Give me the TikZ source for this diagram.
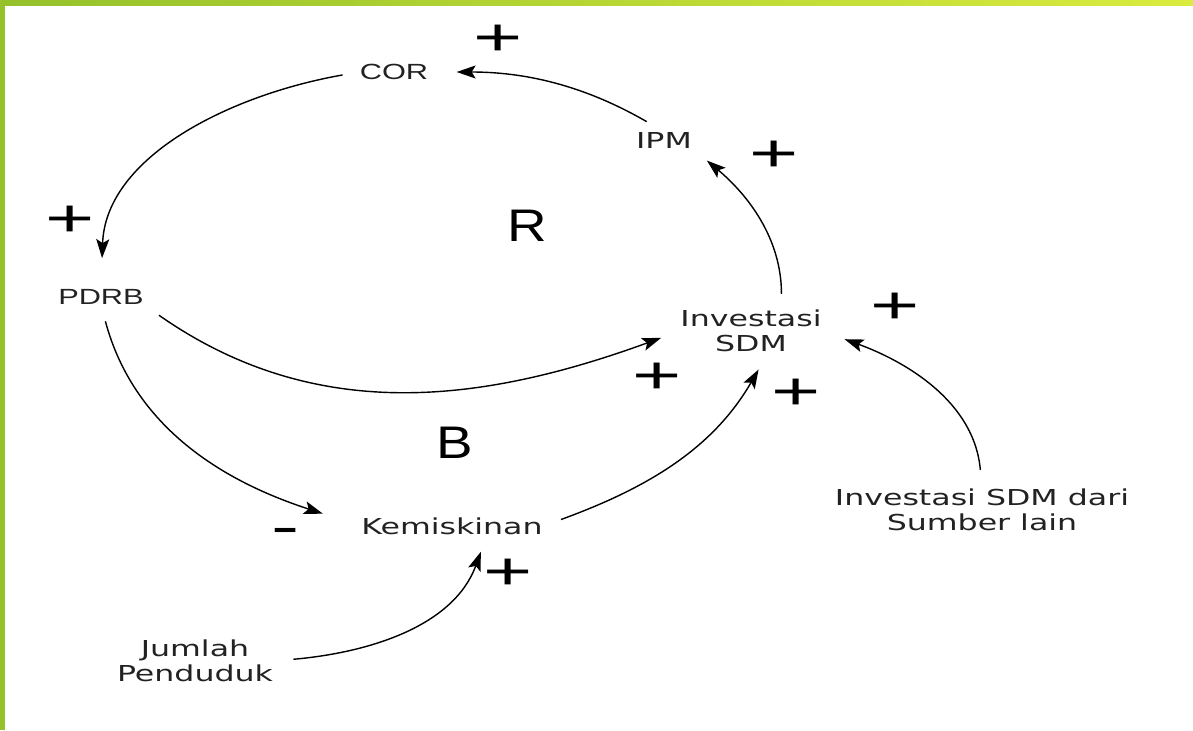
\documentclass[tikz,border=0pt]{standalone}
\usepackage{fontspec}
\usepackage{tikz}
\usetikzlibrary{arrows.meta}
\newfontfamily\dejavu{DejaVu Sans}
\newfontfamily\libsans{Liberation Sans}
\definecolor{barleft}{HTML}{95C12B}
\definecolor{barright}{HTML}{D9EB3E}
\definecolor{inkgray}{HTML}{222222}

\begin{document}
\begin{tikzpicture}[
  x=0.02cm, y=-0.02cm,
  var/.style={
    inner sep=0pt,
    align=center,
    xscale=1.44,
    transform shape,
    text=inkgray,
    font=\dejavu\fontsize{12.5}{14}\selectfont
  },
  varsans/.style={
    inner sep=0pt,
    xscale=1.4,
    transform shape,
    text=inkgray,
    font=\libsans\fontsize{12.5}{14}\selectfont
  },
  loopmark/.style={
    inner sep=0pt,
    xscale=1.2,
    transform shape,
    font=\libsans\fontsize{26}{30}\selectfont
  },
  sign/.style={
    inner sep=0pt,
    xscale=1.6,
    transform shape,
    font=\libsans\fontsize{30}{34}\selectfont
  },
  link/.style={
    -{Stealth[length=3.8mm,width=2.6mm,inset=0.8mm]},
    line width=0.8pt
  }
]
\useasboundingbox (0,0) rectangle (1193,730);

% Frame
\fill[left color=barleft, right color=barright] (0,0) rectangle (1193,5);
\fill[barleft] (0,0) rectangle (5,730);

% Variables
\node[varsans] (cor) at (394,72) {COR};
\node[varsans] (pdrb) at (101,297) {PDRB};
\node[var] (ipm) at (664,140) {IPM};
\node[var] (inv) at (751,331) {Investasi\\SDM};
\node[var] (kem) at (452,526) {Kemiskinan};
\node[var] (dari) at (982,510) {Investasi SDM dari\\Sumber lain};
\node[var] (jum) at (195,661) {Jumlah\\Penduduk};

% Loop labels
\node[loopmark] (loopr) at (527,226) {R};
\node[loopmark] (loopb) at (455,443) {B};

% Polarity signs
\node[sign] (s1) at (498,40) {+};
\node[sign] (s2) at (774,156) {+};
\node[sign] (s3) at (70,221) {+};
\node[sign] (s4) at (895,308) {+};
\node[sign] (s5) at (657,378) {+};
\node[sign] (s6) at (796,394) {+};
\node[sign] (s7) at (508,574) {+};
\node[sign] (s8) at (286,536) {-};

% Links
\draw[link, shorten <=3.4mm, shorten >=6.2mm] (cor.west) to[out=190, in=88] (pdrb.north);
\draw[link, shorten <=4mm, shorten >=5.6mm] (ipm.north) to[out=150, in=0] (cor.east);
\draw[link, shorten <=3.2mm, shorten >=3.8mm] (inv.45) to[out=90, in=-40] (ipm.south east);
\draw[link, shorten <=3.6mm, shorten >=4mm] (pdrb.south east) to[out=-35, in=200] (inv.west);
\draw[link, shorten <=3.4mm, shorten >=8mm] (pdrb.south) to[out=-75, in=162] (kem.west);
\draw[link, shorten <=3.8mm, shorten >=4mm] (kem.east) to[out=20, in=240] (inv.-60);
\draw[link, shorten <=4mm, shorten >=3.6mm] (jum.east) to[out=5, in=250] (kem.-20);
\draw[link, shorten <=3.8mm, shorten >=4.8mm] (dari.north) to[out=95, in=-20] (inv.east);

\end{tikzpicture}
\end{document}
